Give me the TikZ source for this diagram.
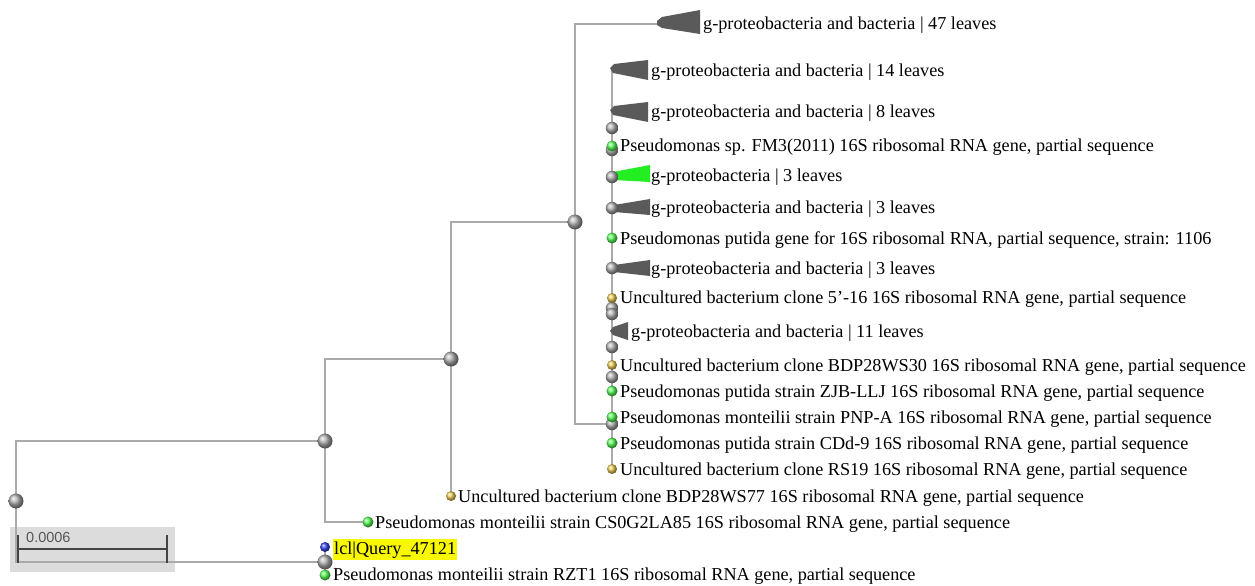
\documentclass[tikz,border=0pt]{standalone}
\usepackage{fontspec}
\setmainfont{Liberation Serif}
\newfontfamily\scalebarfont{Liberation Sans}
\definecolor{linegray}{HTML}{AAAAAA}
\definecolor{trigray}{HTML}{5A5A5A}
\definecolor{trigreen}{HTML}{22EE22}
\definecolor{ballgreen}{HTML}{55FF55}
\definecolor{ballgold}{HTML}{EBCB55}
\definecolor{ballblue}{HTML}{3344EE}
\definecolor{hilite}{HTML}{F8F800}
\definecolor{scalebg}{HTML}{DCDCDC}
\definecolor{scalebar}{HTML}{444444}
\begin{document}
\begin{tikzpicture}[x=1pt,y=-1pt,
  br/.style={draw=linegray, line width=1.6pt},
  inode/.style={circle, inner sep=0pt, minimum size=15pt, ball color=gray!60, draw=none},
  snode/.style={circle, inner sep=0pt, minimum size=12.5pt, ball color=gray!60, draw=none},
  gleaf/.style={circle, inner sep=0pt, minimum size=11pt, ball color=ballgreen, draw=none},
  yleaf/.style={circle, inner sep=0pt, minimum size=10pt, ball color=ballgold, draw=none},
  bleaf/.style={circle, inner sep=0pt, minimum size=10pt, ball color=ballblue, draw=none},
  lab/.style={anchor=base west, inner sep=0pt, font=\fontsize{18.2}{20}\selectfont},
  tri/.style={fill=trigray},
  gtri/.style={fill=trigreen}
]
\useasboundingbox (0,0) rectangle (1255,586);
\fill[white] (0,0) rectangle (1255,586);

% scale bar background
\fill[scalebg] (10,527) rectangle (175,572);

% ---- node coordinates ----
\coordinate (root) at (16,501);
\coordinate (A) at (325,441);
\coordinate (Q) at (325,562);
\coordinate (B) at (451,359);
\coordinate (C) at (575,222);
\coordinate (D) at (612,424);
\coordinate (c47) at (659,24);
\coordinate (ctop) at (612,69);
\coordinate (cbot) at (612,468);
\coordinate (lCS) at (368,522);
\coordinate (lW77) at (451,496);
\coordinate (lQuery) at (325,547);
\coordinate (lRZT) at (325,575);

% ---- branches ----
\draw[br] (root) |- (A);
\draw[br] (root) |- (Q);
\draw[br] (Q) -- (lQuery);
\draw[br] (Q) -- (lRZT);
\draw[br] (A) |- (B);
\draw[br] (A) |- (lCS);
\draw[br] (B) |- (C);
\draw[br] (B) -- (lW77);
\draw[br] (C) |- (c47);
\draw[br] (C) |- (D);
\draw[br] (D) -- (ctop);
\draw[br] (D) -- (cbot);

% ---- collapsed subtrees ----
\fill[tri] (700,10) -- (662,17) -- (657,21) -- (657,25) -- (662,28) -- (700,34) -- cycle;
\fill[tri] (648,60) -- (614,64) -- (610,68) -- (613,73) -- (648,80) -- cycle;
\fill[tri] (648,102) -- (614,106) -- (610,110) -- (613,115) -- (648,122) -- cycle;
\fill[gtri] (650,165) -- (613,172) -- (612,176) -- (614,180) -- (650,182) -- cycle;
\fill[tri] (650,199) -- (614,205) -- (612,208) -- (614,212) -- (650,215) -- cycle;
\fill[tri] (650,260) -- (614,265) -- (612,269) -- (614,272) -- (650,276) -- cycle;
\fill[tri] (628,322) -- (613,327) -- (610,331) -- (613,335) -- (628,340) -- cycle;

% ---- scale bar ----
\coordinate (sbL) at (18,549);
\coordinate (sbR) at (167,549);
\draw[scalebar, line width=2pt] (sbL) -- (sbR);
\draw[scalebar, line width=2pt] ([yshift=-14pt]sbL) -- ([yshift=14pt]sbL);
\draw[scalebar, line width=2pt] ([yshift=-14pt]sbR) -- ([yshift=14pt]sbR);
\node[anchor=base west, inner sep=0pt, text=scalebar!90, font=\scalebarfont\fontsize{14.5}{16}\selectfont] (sbt) at (26,542) {0.0006};

% ---- internal nodes ----
\node[inode] (nroot) at (root) {};
\node[inode] (nA) at (A) {};
\node[inode] (nB) at (B) {};
\node[inode] (nC) at (C) {};
\node[inode] (nQ) at (Q) {};
\node[snode] (k1) at (612,128) {};
\node[snode] (k2) at (612,150) {};
\node[snode] (k3) at (612,177) {};
\node[snode] (k4) at (612,208) {};
\node[snode] (k5) at (612,268) {};
\node[snode] (k6) at (612,308) {};
\node[snode] (k7) at (612,314) {};
\node[snode] (k8) at (612,347) {};
\node[snode] (k9) at (612,377) {};
\node[snode] (nD) at (D) {};

% ---- leaves ----
\node[gleaf] (lFM3) at (612,146) {};
\node[gleaf] (lPG) at (612,238) {};
\node[yleaf] (l516) at (612,298) {};
\node[yleaf] (lWS30) at (612,365) {};
\node[gleaf] (lZJB) at (612,391) {};
\node[gleaf] (lPNP) at (612,417) {};
\node[gleaf] (lCDd) at (612,443) {};
\node[yleaf] (lRS19) at (612,469) {};
\node[yleaf] (nW77) at (lW77) {};
\node[gleaf] (nCS) at (lCS) {};
\node[bleaf] (nQuery) at (lQuery) {};
\node[gleaf] (nRZT) at (lRZT) {};

% ---- labels ----
\node[lab] (t47) at (703,30) {g-proteobacteria and bacteria | 47 leaves};
\node[lab] (t14) at (651,76) {g-proteobacteria and bacteria | 14 leaves};
\node[lab] (t8) at (651,117) {g-proteobacteria and bacteria | 8 leaves};
\node[lab] (tFM3) at (620,151) {Pseudomonas sp. FM3(2011) 16S ribosomal RNA gene, partial sequence};
\node[lab] (tg3) at (651,181) {g-proteobacteria | 3 leaves};
\node[lab] (ta3) at (651,213) {g-proteobacteria and bacteria | 3 leaves};
\node[lab] (tPG) at (620,244) {Pseudomonas putida gene for 16S ribosomal RNA, partial sequence, strain: 1106};
\node[lab] (tb3) at (651,274) {g-proteobacteria and bacteria | 3 leaves};
\node[lab] (t516) at (620,303) {Uncultured bacterium clone 5’-16 16S ribosomal RNA gene, partial sequence};
\node[lab] (t11) at (631,337) {g-proteobacteria and bacteria | 11 leaves};
\node[lab] (tWS30) at (620,371) {Uncultured bacterium clone BDP28WS30 16S ribosomal RNA gene, partial sequence};
\node[lab] (tZJB) at (620,397) {Pseudomonas putida strain ZJB-LLJ 16S ribosomal RNA gene, partial sequence};
\node[lab] (tPNP) at (620,423) {Pseudomonas monteilii strain PNP-A 16S ribosomal RNA gene, partial sequence};
\node[lab] (tCDd) at (620,449) {Pseudomonas putida strain CDd-9 16S ribosomal RNA gene, partial sequence};
\node[lab] (tRS19) at (620,475) {Uncultured bacterium clone RS19 16S ribosomal RNA gene, partial sequence};
\node[lab] (tW77) at (458,502) {Uncultured bacterium clone BDP28WS77 16S ribosomal RNA gene, partial sequence};
\node[lab] (tCS) at (375,528) {Pseudomonas monteilii strain CS0G2LA85 16S ribosomal RNA gene, partial sequence};
\node[lab, fill=hilite, inner ysep=2.5pt, inner xsep=1pt] (tQuery) at (333,554) {lcl|Query\_47121};
\node[lab] (tRZT) at (333,580) {Pseudomonas monteilii strain RZT1 16S ribosomal RNA gene, partial sequence};
\end{tikzpicture}
\end{document}
